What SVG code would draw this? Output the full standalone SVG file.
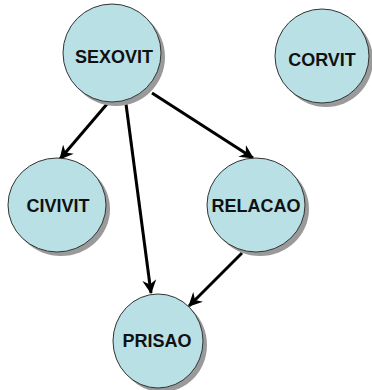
<svg xmlns="http://www.w3.org/2000/svg" width="372" height="390" viewBox="0 0 372 390">
  <defs>
    <marker id="arrow" viewBox="0 0 14 14" refX="13" refY="7" markerWidth="14" markerHeight="14" markerUnits="userSpaceOnUse" orient="auto">
      <path d="M0,0 L14,7 L0,14 L4.5,7 Z" fill="#000"/>
    </marker>
  </defs>
  <style>
    .shadow { fill: #9a9a9a; }
    .node { fill: #b9e0e5; stroke: #333; stroke-width: 1; }
    .label { font-family: "Liberation Sans", Arial, sans-serif; font-weight: bold; font-size: 18px; fill: #111; text-anchor: middle; }
    .edge { stroke: #000; stroke-width: 3; fill: none; marker-end: url(#arrow); }
  </style>
  <rect width="372" height="390" fill="#fff"/>

  <g id="connectors">
    <line class="edge" x1="107" y1="104" x2="60" y2="159"/>
    <line class="edge" x1="126" y1="104" x2="151" y2="293"/>
    <line class="edge" x1="152" y1="93" x2="253" y2="158"/>
    <line class="edge" x1="242" y1="253" x2="189" y2="306"/>
  </g>

  <g id="SEXOVIT">
    <ellipse class="shadow" cx="116" cy="57" rx="49" ry="49"/>
    <ellipse class="node" cx="112" cy="53" rx="49" ry="49"/>
    <text class="label" x="114" y="63">SEXOVIT</text>
  </g>
  <g id="CORVIT">
    <ellipse class="shadow" cx="326" cy="60" rx="47" ry="47"/>
    <ellipse class="node" cx="322" cy="56" rx="47" ry="47"/>
    <text class="label" x="322" y="66">CORVIT</text>
  </g>
  <g id="CIVIVIT">
    <ellipse class="shadow" cx="61" cy="209" rx="49" ry="47"/>
    <ellipse class="node" cx="57" cy="205" rx="49" ry="47"/>
    <text class="label" x="58" y="212">CIVIVIT</text>
  </g>
  <g id="RELACAO">
    <ellipse class="shadow" cx="260" cy="209" rx="49" ry="47"/>
    <ellipse class="node" cx="256" cy="205" rx="49" ry="47"/>
    <text class="label" x="256" y="212">RELACAO</text>
  </g>
  <g id="PRISAO">
    <ellipse class="shadow" cx="162" cy="345" rx="45" ry="47"/>
    <ellipse class="node" cx="158" cy="341" rx="45" ry="47"/>
    <text class="label" x="157" y="347">PRISAO</text>
  </g>
</svg>
